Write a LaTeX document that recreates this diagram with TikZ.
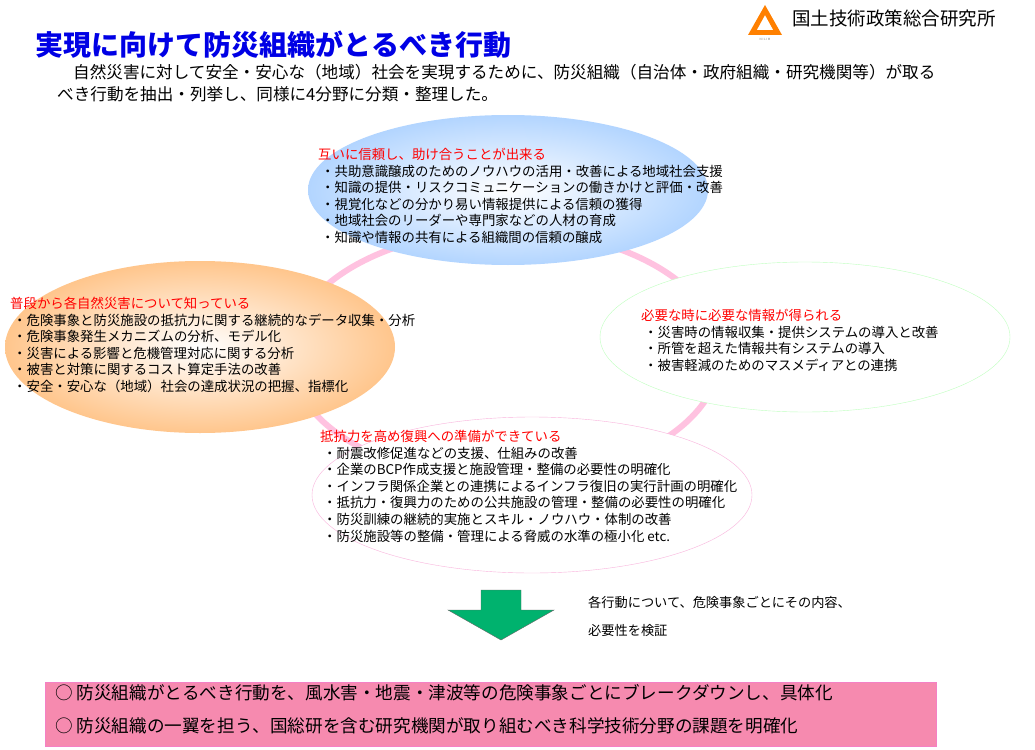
\documentclass[tikz,border=0pt]{standalone}
\usepackage{fontspec}
\setmainfont{Noto Sans CJK JP}
\usetikzlibrary{shapes.geometric}
\definecolor{arrowgreen}{RGB}{0,178,110}
\begin{document}
\begin{tikzpicture}[x=1pt,y=-1pt,
  body/.style={anchor=north west,align=left,font=\fontsize{13.4}{16.6}\selectfont,inner sep=0}]
\useasboundingbox (0,0) rectangle (1035,749);
\fill[white] (0,0) rectangle (1035,749);
% ring
\draw[line width=6pt,pink!80!magenta!60] (505,355) ellipse [x radius=215, y radius=125];
% ellipses
\shade[inner color=white,outer color=cyan!45!blue!30] (508,190) ellipse [x radius=200, y radius=75];
\shade[inner color=white,outer color=orange!45] (200,347) ellipse [x radius=195, y radius=86];
\filldraw[fill=white,draw=green!25] (805,337) ellipse [x radius=205, y radius=75];
\filldraw[fill=white,draw=magenta!30] (532,495) ellipse [x radius=220, y radius=78];
% title
\node[anchor=west,font=\fontsize{28}{30}\selectfont\bfseries,text=blue!90!black,inner sep=0] (title) at (35,45) {実現に向けて防災組織がとるべき行動};
\node[anchor=north west,align=left,font=\fontsize{16.6}{22}\selectfont,inner sep=0] (sub) at (57,64) {\hspace*{16pt}自然災害に対して安全・安心な（地域）社会を実現するために、防災組織（自治体・政府組織・研究機関等）が取る\\べき行動を抽出・列挙し、同様に4分野に分類・整理した。};
% logo
\fill[orange] (748,35) -- (765,5) -- (782,35) -- (776,35) -- (765,15) -- (754,35) -- cycle;
\fill[orange] (752,30) rectangle (778,35);
\node[font=\fontsize{3}{3}\selectfont,text=gray] (nilim) at (765,39) {N I L I M};
\node[anchor=west,font=\fontsize{18.5}{20}\selectfont,inner sep=0] (inst) at (792,18) {国土技術政策総合研究所};
% texts
\node[body] (t1) at (318,148) {\textcolor{red}{互いに信頼し、助け合うことが出来る}\\
\ ・共助意識醸成のためのノウハウの活用・改善による地域社会支援\\
\ ・知識の提供・リスクコミュニケーションの働きかけと評価・改善\\
\ ・視覚化などの分かり易い情報提供による信頼の獲得\\
\ ・地域社会のリーダーや専門家などの人材の育成\\
\ ・知識や情報の共有による組織間の信頼の醸成};
\node[body] (t2) at (10,297) {\textcolor{red}{普段から各自然災害について知っている}\\
\ ・危険事象と防災施設の抵抗力に関する継続的なデータ収集・分析\\
\ ・危険事象発生メカニズムの分析、モデル化\\
\ ・災害による影響と危機管理対応に関する分析\\
\ ・被害と対策に関するコスト算定手法の改善\\
\ ・安全・安心な（地域）社会の達成状況の把握、指標化};
\node[body] (t3) at (641,309) {\textcolor{red}{必要な時に必要な情報が得られる}\\
\ ・災害時の情報収集・提供システムの導入と改善\\
\ ・所管を超えた情報共有システムの導入\\
\ ・被害軽減のためのマスメディアとの連携};
\node[body] (t4) at (320,430) {\textcolor{red}{抵抗力を高め復興への準備ができている}\\
\ ・耐震改修促進などの支援、仕組みの改善\\
\ ・企業のBCP作成支援と施設管理・整備の必要性の明確化\\
\ ・インフラ関係企業との連携によるインフラ復旧の実行計画の明確化\\
\ ・抵抗力・復興力のための公共施設の管理・整備の必要性の明確化\\
\ ・防災訓練の継続的実施とスキル・ノウハウ・体制の改善\\
\ ・防災施設等の整備・管理による脅威の水準の極小化 etc.};
% arrow
\filldraw[fill=arrowgreen,draw=black!60] (481,590) -- (521,590) -- (521,610) -- (554,610) -- (501,640) -- (448,610) -- (481,610) -- cycle;
\node[anchor=north west,align=left,font=\fontsize{13.2}{28}\selectfont,inner sep=0] (note) at (588,596) {各行動について、危険事象ごとにその内容、\\必要性を検証};
% bottom box
\filldraw[fill=magenta!35!pink!90,draw=magenta!50] (45,682) rectangle (936,746);
\node[anchor=north west,align=left,font=\fontsize{17.6}{33}\selectfont,inner sep=0] (concl) at (55,684) {○ 防災組織がとるべき行動を、風水害・地震・津波等の危険事象ごとにブレークダウンし、具体化\\○ 防災組織の一翼を担う、国総研を含む研究機関が取り組むべき科学技術分野の課題を明確化};
\end{tikzpicture}
\end{document}
